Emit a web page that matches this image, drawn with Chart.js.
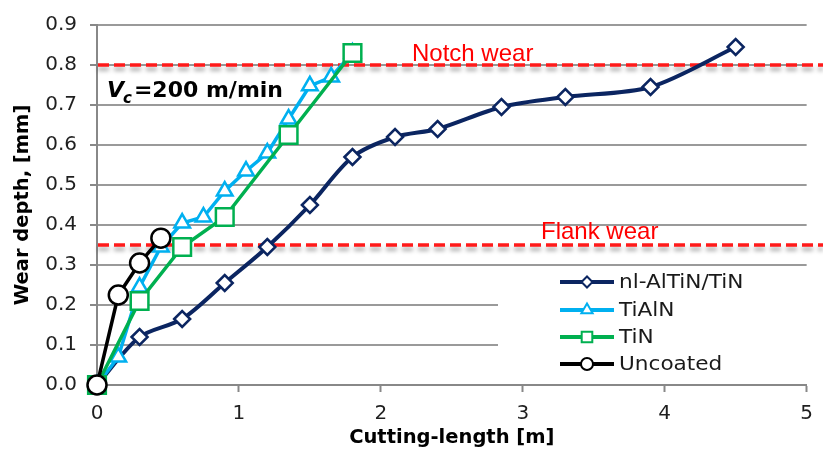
<!DOCTYPE html>
<html>
<head>
<meta charset="utf-8">
<script src="https://cdn.jsdelivr.net/npm/chart.js@4.4.1/dist/chart.umd.min.js"></script>
<style>
html,body{margin:0;padding:0;background:#fff;}
#wrap{width:823px;height:453px;position:relative;}
</style>
</head>
<body>
<div id="wrap"><canvas id="c"></canvas></div>
<script>
// ---- data ----
const seriesNames = ['nl-AlTiN/TiN', 'TiAlN', 'TiN', 'Uncoated'];
const nlX    = [0, 0.3, 0.6, 0.9, 1.2, 1.5, 1.8, 2.1, 2.4, 2.85, 3.3, 3.9, 4.5];
const nlY    = [0, 0.12, 0.165, 0.255, 0.345, 0.45, 0.57, 0.62, 0.64, 0.695, 0.72, 0.745, 0.845];
const tialnX = [0, 0.15, 0.3, 0.45, 0.6, 0.75, 0.9, 1.05, 1.2, 1.35, 1.5, 1.65, 1.8];
const tialnY = [0, 0.07, 0.245, 0.345, 0.405, 0.42, 0.485, 0.535, 0.58, 0.665, 0.748, 0.77, 0.83];
const tinX   = [0, 0.3, 0.6, 0.9, 1.35, 1.8];
const tinY   = [0, 0.21, 0.345, 0.42, 0.625, 0.83];
const uncX   = [0, 0.15, 0.3, 0.45];
const uncY   = [0, 0.225, 0.305, 0.367];
const limitValues = [0.8, 0.35];
const limitLabels = ['Notch wear', 'Flank wear'];
const xTickValues = [0, 1, 2, 3, 4, 5];
const yTickValues = [0, 0.1, 0.2, 0.3, 0.4, 0.5, 0.6, 0.7, 0.8, 0.9];

function pts(xs, ys) { return xs.map((x, i) => ({x: x, y: ys[i]})); }

const colors = ['#0b2561', '#00b0f0', '#00b050', '#000000'];
const styles = ['rectRot', 'triangle', 'rect', 'circle'];

const overlay = {
  id: 'overlay',
  beforeDatasetsDraw(chart) {
    const ctx = chart.ctx, ys = chart.scales.y, xs = chart.scales.x;
    // legend background hides the gridlines behind it
    ctx.save();
    ctx.fillStyle = '#ffffff';
    ctx.fillRect(498, 268, xs.right - 498 + 4, ys.bottom - 268 - 2);
    ctx.restore();
    // threshold lines
    limitValues.forEach(v => {
      const py = ys.getPixelForValue(v);
      ctx.save();
      ctx.strokeStyle = '#ff1a1a';
      ctx.lineWidth = 3.5;
      ctx.setLineDash([11, 5]);
      ctx.shadowColor = 'rgba(0,0,0,0.35)';
      ctx.shadowBlur = 4;
      ctx.shadowOffsetY = 4;
      ctx.beginPath();
      ctx.moveTo(xs.left + 1, py);
      ctx.lineTo(chart.width, py);
      ctx.stroke();
      ctx.restore();
    });
  },
  afterDatasetsDraw(chart) {
    const ctx = chart.ctx, ys = chart.scales.y;
    ctx.save();
    // threshold labels
    ctx.fillStyle = '#ff0000';
    ctx.font = '24px "Liberation Sans", Arial, sans-serif';
    ctx.textBaseline = 'alphabetic';
    ctx.textAlign = 'left';
    ctx.fillText(limitLabels[0], 412, ys.getPixelForValue(limitValues[0]) - 4);
    ctx.fillText(limitLabels[1], 541, ys.getPixelForValue(limitValues[1]) - 6);
    // Vc annotation
    ctx.fillStyle = '#000';
    ctx.font = 'italic bold 22px "DejaVu Sans", sans-serif';
    ctx.fillText('V', 107, 97);
    const vw = ctx.measureText('V').width;
    ctx.font = 'italic bold 15px "DejaVu Sans", sans-serif';
    ctx.fillText('c', 107 + vw - 1, 103);
    const cw = ctx.measureText('c').width;
    ctx.font = 'bold 22px "DejaVu Sans", sans-serif';
    ctx.fillText('=200 m/min', 107 + vw + cw + 1, 97);
    // legend
    const rows = [282, 310, 337, 364];
    const radii = [5.5, 6.5, 7.5, 6];
    seriesNames.forEach((name, i) => {
      const y = rows[i];
      ctx.strokeStyle = colors[i];
      ctx.lineWidth = 4;
      ctx.setLineDash([]);
      ctx.beginPath();
      ctx.moveTo(560, y); ctx.lineTo(614, y);
      ctx.stroke();
      drawMarker(ctx, styles[i], 587, y, radii[i], colors[i]);
      ctx.save();
      ctx.fillStyle = '#1a1a1a';
      ctx.font = '20px "DejaVu Sans", sans-serif';
      ctx.textBaseline = 'middle';
      ctx.translate(619, y + 1);
      ctx.scale(1.08, 1);
      ctx.fillText(name, 0, 0);
      ctx.restore();
    });
    ctx.restore();
  }
};

function drawMarker(ctx, style, x, y, r, col) {
  ctx.save();
  ctx.fillStyle = '#fff';
  ctx.strokeStyle = col;
  ctx.lineWidth = 2;
  ctx.beginPath();
  if (style === 'rectRot') {
    ctx.moveTo(x - r, y); ctx.lineTo(x, y - r); ctx.lineTo(x + r, y); ctx.lineTo(x, y + r); ctx.closePath();
  } else if (style === 'triangle') {
    ctx.moveTo(x, y - r); ctx.lineTo(x + r * 0.866, y + r / 2); ctx.lineTo(x - r * 0.866, y + r / 2); ctx.closePath();
  } else if (style === 'rect') {
    const s = r * 0.707;
    ctx.rect(x - s, y - s, 2 * s, 2 * s);
  } else {
    ctx.arc(x, y, r, 0, Math.PI * 2);
  }
  ctx.fill(); ctx.stroke();
  ctx.restore();
}

function ds(label, xs, ys, i, radius, width, tension, order) {
  return {
    label: label,
    data: pts(xs, ys),
    borderColor: colors[i],
    backgroundColor: '#ffffff',
    pointBackgroundColor: '#ffffff',
    pointBorderColor: colors[i],
    pointBorderWidth: 2.5,
    pointStyle: styles[i],
    pointRadius: radius,
    borderWidth: width,
    tension: tension,
    clip: false,
    order: order
  };
}

new Chart(document.getElementById('c'), {
  type: 'line',
  data: {
    datasets: [
      ds(seriesNames[0], nlX, nlY, 0, 8, 4, 0.3, 4),
      ds(seriesNames[1], tialnX, tialnY, 1, 9, 3.5, 0, 3),
      ds(seriesNames[2], tinX, tinY, 2, 12.5, 3.5, 0, 2),
      ds(seriesNames[3], uncX, uncY, 3, 9.5, 3.5, 0, 1)
    ]
  },
  options: {
    responsive: true,
    maintainAspectRatio: false,
    animation: false,
    devicePixelRatio: 1,
    layout: { padding: { top: 23, right: 15, left: 0, bottom: 0 } },
    plugins: { legend: { display: false }, tooltip: { enabled: false } },
    scales: {
      x: {
        type: 'linear',
        min: 0, max: 5,
        afterFit(s) { s.height = 68; },
        afterBuildTicks(s) { s.ticks = xTickValues.map(v => ({value: v})); },
        ticks: {
          color: '#1f1f1f',
          padding: 10,
          font: { family: '"DejaVu Sans", sans-serif', size: 20 },
          callback: v => String(v)
        },
        grid: { drawOnChartArea: false, drawTicks: true, tickLength: 7, tickColor: '#888888', tickWidth: 2 },
        border: { color: '#888888', width: 2 },
        title: {
          display: true,
          text: 'Cutting-length [m]',
          color: '#000',
          font: { family: '"DejaVu Sans", sans-serif', size: 19.5, weight: 'bold' },
          padding: { top: 0, bottom: 3 }
        }
      },
      y: {
        type: 'linear',
        min: 0, max: 0.9,
        afterFit(s) { s.width = 97; },
        afterBuildTicks(s) { s.ticks = yTickValues.map(v => ({value: v})); },
        ticks: {
          color: '#1f1f1f',
          padding: 13,
          font: { family: '"DejaVu Sans", sans-serif', size: 20 },
          callback: v => Number(v).toFixed(1)
        },
        grid: {
          color: c => (c.tick && c.tick.value === 0) ? 'rgba(0,0,0,0)' : '#9a9a9a',
          lineWidth: 2,
          borderDash: [2, 3],
          tickLength: 7,
          tickColor: '#888888',
          tickWidth: 2,
          tickBorderDash: []
        },
        border: { color: '#888888', width: 2 },
        title: {
          display: true,
          text: 'Wear depth, [mm]',
          color: '#000',
          font: { family: '"DejaVu Sans", sans-serif', size: 19.5, weight: 'bold' },
          padding: { top: 11, bottom: 0 }
        }
      }
    }
  },
  plugins: [overlay]
});
</script>
</body>
</html>
